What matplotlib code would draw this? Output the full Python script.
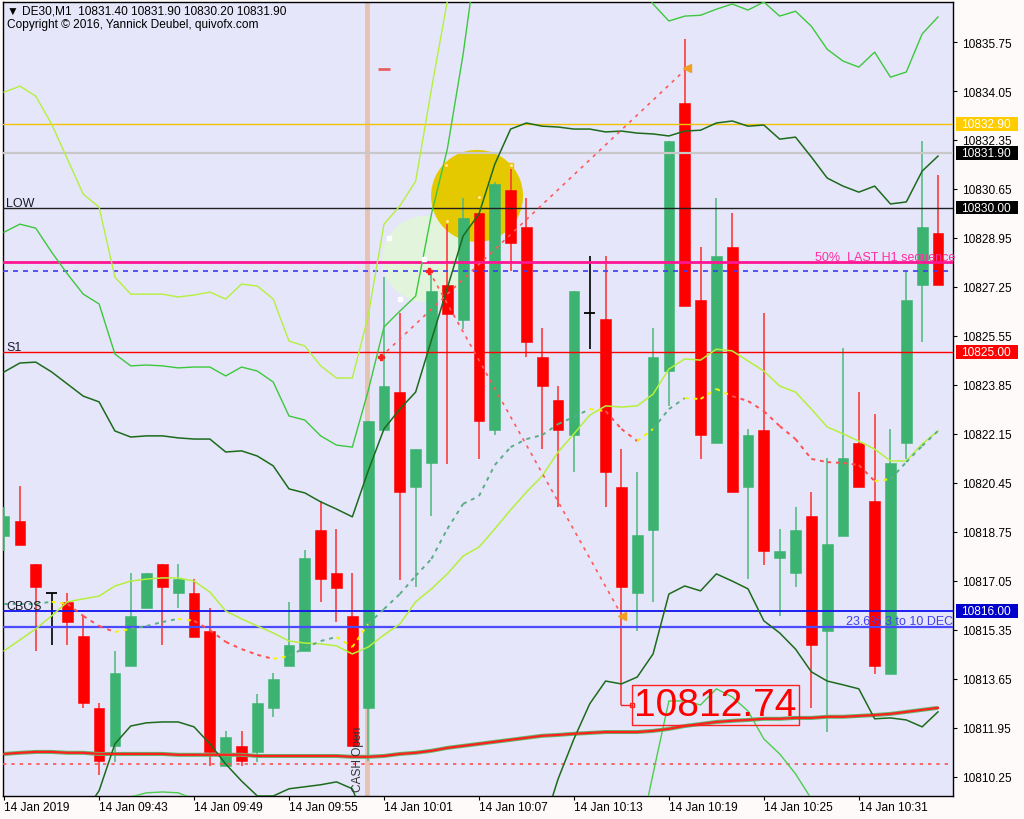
import numpy as np
import matplotlib
matplotlib.use('Agg')
import matplotlib.pyplot as plt
from matplotlib.patches import Ellipse, Rectangle
from matplotlib.collections import LineCollection
import matplotlib.transforms as mtransforms

plt.rcParams['font.family'] = ['Liberation Sans', 'DejaVu Sans']
nan = np.nan

# ---------------- data ----------------
opens = [10818.61, 10819.13, 10817.64, 10816.63, 10816.32, 10815.14, 10812.64, 10811.32, 10814.10, 10816.11,
         10817.64, 10816.63, 10816.63, 10815.31, 10810.63, 10811.32, 10811.11, 10812.64, 10814.10, 10814.62,
         10818.82, 10817.33, 10815.83, 10812.64, 10822.29, 10823.61, 10820.31, 10821.14, 10827.32, 10826.10,
         10829.82, 10822.29, 10830.61, 10829.33, 10824.82, 10823.33, 10822.11, 10826.35, 10826.14, 10820.31,
         10816.63, 10818.82, 10824.33, 10833.63, 10826.80, 10821.84, 10828.64, 10820.31, 10822.29, 10817.85,
         10817.33, 10819.30, 10815.31, 10818.61, 10821.84, 10819.82, 10813.82, 10821.84, 10827.32, 10829.12]
highs = [10819.62, 10820.34, 10817.64, 10816.63, 10816.63, 10815.83, 10812.82, 10814.62, 10817.33, 10817.33,
         10817.64, 10817.64, 10817.12, 10816.11, 10811.84, 10811.84, 10813.13, 10813.86, 10816.32, 10818.12,
         10819.82, 10818.85, 10817.33, 10822.60, 10827.60, 10826.35, 10821.63, 10827.70, 10829.61, 10830.34,
         10829.82, 10830.89, 10831.34, 10830.34, 10825.83, 10823.81, 10827.11, 10828.32, 10828.32, 10821.63,
         10820.83, 10825.83, 10832.31, 10835.85, 10828.64, 10830.34, 10829.82, 10822.32, 10826.35, 10818.85,
         10819.62, 10820.14, 10821.32, 10825.13, 10823.61, 10822.84, 10822.32, 10827.80, 10832.31, 10831.14]
lows = [10818.09, 10818.30, 10814.62, 10814.83, 10814.83, 10812.64, 10810.32, 10810.77, 10814.10, 10816.11,
        10814.83, 10816.11, 10815.10, 10810.63, 10810.63, 10810.63, 10810.77, 10812.33, 10814.10, 10814.62,
        10816.32, 10815.63, 10811.32, 10810.80, 10822.29, 10817.08, 10816.84, 10819.30, 10821.11, 10825.79,
        10821.28, 10822.11, 10827.80, 10824.82, 10821.63, 10819.62, 10820.83, 10825.10, 10819.62, 10812.74,
        10815.31, 10816.32, 10823.12, 10826.59, 10821.28, 10821.84, 10820.14, 10817.12, 10817.60, 10815.83,
        10816.84, 10812.64, 10811.81, 10818.61, 10820.31, 10813.82, 10813.82, 10821.28, 10825.34, 10827.32]
closes = [10819.30, 10818.30, 10816.84, 10816.63, 10815.63, 10812.82, 10810.80, 10813.86, 10815.83, 10817.33,
          10816.84, 10817.12, 10815.10, 10811.11, 10811.64, 10810.80, 10812.82, 10813.65, 10814.83, 10817.85,
          10817.12, 10816.81, 10811.32, 10822.60, 10823.81, 10820.14, 10821.63, 10827.11, 10826.31, 10829.64,
          10822.60, 10830.82, 10828.78, 10825.34, 10823.81, 10822.29, 10827.11, 10826.35, 10820.83, 10816.84,
          10818.64, 10824.82, 10832.31, 10826.59, 10822.11, 10828.32, 10820.14, 10822.11, 10818.09, 10818.09,
          10818.82, 10814.83, 10818.33, 10821.32, 10820.31, 10814.10, 10821.14, 10826.80, 10829.33, 10827.32]

band_light_upper = [10834.01, 10834.22, 10833.87, 10832.90, 10831.69, 10830.47, 10830.02, 10827.59, 10827.00, 10827.00,
                    10827.00, 10826.90, 10826.97, 10827.07, 10826.83, 10827.35, 10827.28, 10826.83, 10825.37, 10825.20,
                    10824.51, 10824.09, 10824.09, 10826.24, 10829.43, 10830.06, 10830.92, 10834.12, 10837.17, 10839.67] + [nan] * 30
band_mid_upper = [10829.15, 10829.43, 10829.29, 10828.46, 10827.70, 10827.00, 10826.66, 10824.92, 10824.51, 10824.54,
                  10824.51, 10824.44, 10824.47, 10824.47, 10824.16, 10824.47, 10824.33, 10823.95, 10822.77, 10822.63,
                  10822.08, 10821.76, 10821.69, 10823.64, 10825.86, 10826.41, 10826.93, 10829.78, 10832.03, 10835.33,
                  10839.32] + [nan] * 9 + [
                  10838.11, 10837.07, 10836.48, 10836.65, 10836.68, 10836.89, 10837.07, 10836.86, 10837.14, 10836.65,
                  10836.82, 10836.30, 10835.50, 10835.09, 10834.88, 10835.40, 10834.53, 10834.71, 10836.03, 10836.62]
band_dark_upper = [10824.30, 10824.61, 10824.64, 10824.30, 10823.88, 10823.46, 10823.26, 10822.25, 10822.04, 10822.08,
                   10822.08, 10822.01, 10821.97, 10821.97, 10821.52, 10821.56, 10821.38, 10821.04, 10820.24, 10820.10,
                   10819.79, 10819.54, 10819.27, 10820.86, 10822.32, 10823.01, 10823.60, 10825.41, 10827.21, 10829.02,
                   10829.78, 10831.51, 10832.73, 10832.94, 10832.83, 10832.80, 10832.73, 10832.73, 10832.63, 10832.66,
                   10832.59, 10832.56, 10832.49, 10832.66, 10832.69, 10832.94, 10833.01, 10832.83, 10832.87, 10832.38,
                   10832.45, 10831.76, 10831.03, 10830.75, 10830.54, 10830.75, 10830.13, 10830.20, 10831.27, 10831.79]
band_dark_lower = [nan] * 4 + [
                   10808.09, 10808.96, 10809.76, 10811.39, 10812.01, 10812.12, 10812.15, 10812.15, 10811.98, 10811.39,
                   10810.69, 10810.10, 10809.58, 10809.58, 10809.83, 10809.90, 10809.97, 10810.07, 10809.83, 10808.44] + [nan] * 10 + [
                   10808.44, 10810.17, 10811.56, 10812.78, 10813.57, 10813.47, 10813.71, 10814.51, 10816.59, 10816.87,
                   10816.70, 10817.29, 10817.04, 10816.77, 10815.66, 10815.24, 10814.68, 10813.89, 10813.57, 10813.44,
                   10813.30, 10812.26, 10812.29, 10812.22, 10811.98, 10812.50]
band_mid_lower = [nan] * 6 + [10808.44, 10809.31, 10809.55, 10809.69, 10809.72, 10809.69, 10809.48, 10808.96] + [nan] * 25 + [
                  10806.01, 10807.74, 10810.35, 10812.88, 10812.88, 10812.74, 10813.30, 10813.02, 10812.53, 10811.56,
                  10811.04, 10810.35, 10809.48, 10808.44] + [nan] * 7
ma_light = [10814.62, 10815.00, 10815.38, 10815.83, 10816.32, 10816.42, 10816.52, 10816.87, 10817.04, 10817.11,
            10817.15, 10817.15, 10817.04, 10816.66, 10816.00, 10815.73, 10815.48, 10815.24, 10814.96, 10814.89,
            10814.86, 10814.79, 10814.51, 10814.75, 10815.17, 10815.55, 10816.32, 10816.77, 10817.29, 10817.91,
            10818.22, 10818.85, 10819.51, 10820.13, 10820.69, 10821.52, 10822.15, 10822.80, 10823.12, 10823.08,
            10823.12, 10823.53, 10824.40, 10824.75, 10824.71, 10825.09, 10825.03, 10824.68, 10824.33, 10823.81,
            10823.60, 10823.01, 10822.39, 10822.15, 10821.90, 10821.62, 10821.21, 10821.21, 10821.80, 10822.25]
ma_dotted = [10816.25, 10816.25, 10816.25, 10816.32, 10816.25, 10815.83, 10815.48, 10815.27, 10815.38, 10815.48,
             10815.62, 10815.73, 10815.66, 10815.34, 10814.93, 10814.68, 10814.48, 10814.34, 10814.44, 10814.72,
             10814.96, 10815.10, 10814.75, 10815.55, 10816.07, 10816.59, 10817.22, 10817.81, 10818.85, 10819.72,
             10819.99, 10821.07, 10821.69, 10821.97, 10822.11, 10822.49, 10822.74, 10823.01, 10822.94, 10822.32,
             10821.90, 10822.32, 10823.01, 10823.39, 10823.36, 10823.71, 10823.46, 10823.29, 10822.94, 10822.42,
             10821.97, 10821.28, 10821.17, 10821.14, 10821.07, 10820.51, 10820.58, 10821.17, 10821.73, 10822.25]
ma_long = [10811.04, 10811.08, 10811.11, 10811.11, 10811.08, 10811.08, 10811.04, 10811.04, 10811.04, 10811.04,
           10811.04, 10811.01, 10811.01, 10811.01, 10811.01, 10811.01, 10810.97, 10810.97, 10810.97, 10810.97,
           10810.97, 10810.97, 10810.94, 10810.94, 10810.97, 10811.04, 10811.08, 10811.15, 10811.25, 10811.32,
           10811.39, 10811.46, 10811.53, 10811.60, 10811.67, 10811.70, 10811.74, 10811.77, 10811.80, 10811.80,
           10811.80, 10811.84, 10811.91, 10812.01, 10812.08, 10812.15, 10812.19, 10812.22, 10812.26, 10812.26,
           10812.29, 10812.29, 10812.33, 10812.33, 10812.36, 10812.39, 10812.43, 10812.50, 10812.57, 10812.64]

xtick_bars = [0, 6, 12, 18, 24, 30, 36, 42, 48, 54]
xtick_labels = ['14 Jan 2019', '14 Jan 09:43', '14 Jan 09:49', '14 Jan 09:55', '14 Jan 10:01',
                '14 Jan 10:07', '14 Jan 10:13', '14 Jan 10:19', '14 Jan 10:25', '14 Jan 10:31']
ytick_prices = [10835.75, 10834.05, 10832.35, 10830.65, 10828.95, 10827.25, 10825.55, 10823.85,
                10822.15, 10820.45, 10818.75, 10817.05, 10815.35, 10813.65, 10811.95, 10810.25]

level_gold = 10832.90
level_bid = 10831.90
level_low = 10830.00
level_half = 10828.12
level_blue_dot = 10827.80
level_s1 = 10825.00
level_cbos = 10816.00
level_fib = 10815.45
level_red_dot = 10810.70

cash_open_bar = 22.93
zig1 = ([23.8, 43.15], [10824.82, 10834.85])
zig2 = ([26.85, 39.04], [10827.80, 10815.83])
plus_x, plus_y = [23.8, 26.85], [10824.82, 10827.80]
tri_x, tri_y = [43.15, 39.04], [10834.85, 10815.83]
dash_x, dash_y = [24.0], [10834.81]
circle_gold = (29.88, 10830.41)
circle_pale = (26.6, 10828.22)
white_dots_x = [24.32, 25.02, 26.53]
white_dots_y = [10828.95, 10826.83, 10828.22]
yellow_dots_x = [27.92, 30.0, 32.03, 27.98]
yellow_dots_y = [10831.48, 10830.37, 10831.48, 10829.54]
low_label_bar = 39
low_label_value = 10812.74
low_label_x = 39.8

header = '\u25BC DE30,M1  10831.40 10831.90 10830.20 10831.90'
copyright_txt = 'Copyright \u00a9 2016, Yannick Deubel, quivofx.com'

# ---------------- figure ----------------
W, H = 1024, 820
fig = plt.figure(figsize=(W / 100, H / 100), dpi=100, facecolor='#fffafa')
ax = fig.add_axes([3 / W, 1 - 797 / H, 950 / W, 794 / H])
ax.set_facecolor('#e6e6fa')
ax.set_xlim(-0.07, 59.95)
ax.set_ylim(10809.58, 10837.14)
for s in ax.spines.values():
    s.set_color('black')
    s.set_linewidth(1.0)

x = np.arange(len(opens))
px_x = 950 / (59.95 + 0.07)          # pixels per bar
px_y = 794 / (10837.14 - 10809.58)   # pixels per price unit

# circles
ax.add_patch(Ellipse(circle_pale, 2 * 43 / px_x, 2 * 43 / px_y, fc='#e3f4dc', ec='none', zorder=1))
ax.add_patch(Ellipse(circle_gold, 2 * 46 / px_x, 2 * 46 / px_y, fc='#e5c900', ec='none', zorder=1.1))

# CASH open band
ax.axvline(cash_open_bar, color='#e6c2b2', lw=3.5, zorder=1.5)
blend_xd = mtransforms.blended_transform_factory(ax.transData, ax.transAxes)
ax.annotate('CASH Open', xy=(cash_open_bar, 0.006), xycoords=blend_xd, xytext=(-3, 0),
            textcoords='offset pixels', rotation=90, ha='right', va='bottom',
            fontsize=8.6, color='#333333', zorder=6)

# horizontal levels
ax.axhline(level_gold, color='#f0c400', lw=1.0, zorder=4)
ax.axhline(level_bid, color='#c8c8c8', lw=1.6, zorder=4)
ax.axhline(level_low, color='#202020', lw=1.0, zorder=4)
ax.axhline(level_half, color='#ff1493', lw=2.0, zorder=4)
ax.axhline(level_blue_dot, color='#3a3aff', lw=1.2, ls=(0, (3, 3)), zorder=4)
ax.axhline(level_s1, color='#ff0000', lw=1.0, zorder=4)
ax.axhline(level_cbos, color='#1010f0', lw=1.3, zorder=4)
ax.axhline(level_fib, color='#4a4aff', lw=1.6, zorder=4)
ax.axhline(level_red_dot, color='#ff5050', lw=1.2, ls=(0, (2, 3)), zorder=4)

# candles
for i in x:
    o, h, l, c = opens[i], highs[i], lows[i], closes[i]
    if c > o:
        col = '#3cb371'
    elif c < o:
        col = '#ff0000'
    else:
        col = '#000000'
    wick_col = {'#3cb371': '#55bb84', '#ff0000': '#ff3b3b', '#000000': '#000000'}[col]
    ax.vlines(i, l, h, color=wick_col, lw=1.2, zorder=3)
    if c != o:
        ax.add_patch(Rectangle((i - 0.34, min(o, c)), 0.68, abs(c - o), fc=col, ec=col, lw=0.4, zorder=3.1))
    else:
        ax.hlines(o, i - 0.34, i + 0.34, color=col, lw=1.3, zorder=3.1)

# indicator lines
ax.plot(x, ma_long, color='#5fb86a', lw=2.9, zorder=5, solid_capstyle='butt')
ax.plot(x, ma_long, color='#ff2020', lw=1.6, zorder=5.1)
ax.plot(x, band_light_upper, color='#b4f03c', lw=1.0, zorder=5)
ax.plot(x, band_mid_upper, color='#3cc83c', lw=1.0, zorder=5)
ax.plot(x, band_dark_upper, color='#1c6b1c', lw=1.1, zorder=5)
ax.plot(x, band_dark_lower, color='#1c6b1c', lw=1.1, zorder=5)
ax.plot(x, band_mid_lower, color='#4ccd4c', lw=1.0, zorder=5)
ax.plot(x, ma_light, color='#b4f03c', lw=1.1, zorder=5)

md = np.array(ma_dotted)
pts = np.column_stack([x, md])
segs = np.stack([pts[:-1], pts[1:]], axis=1)
d = np.diff(md)
cols = []
for k in range(len(d)):
    up = d[k] >= 0
    cols.append('#5aae86' if up else '#ff4f4f')
for k in range(1, len(d)):
    if (d[k] >= 0) != (d[k - 1] >= 0):
        cols[k] = '#f5f500'
lc = LineCollection(segs, colors=cols, linewidths=1.4, linestyles=[(0, (2, 2.5))], zorder=5.2)
ax.add_collection(lc)

# zigzag projections
ax.plot(*zig1, color='#ff5a5a', lw=1.2, ls=(0, (2, 3)), zorder=5.3)
ax.plot(*zig2, color='#ff5a5a', lw=1.2, ls=(0, (2, 3)), zorder=5.3)
ax.plot(plus_x, plus_y, ls='none', marker='P', ms=5, color='#ff2020', zorder=5.4)
ax.plot(tri_x, tri_y, ls='none', marker='<', ms=6, color='#f0a020', zorder=5.4)
ax.plot(dash_x, dash_y, ls='none', marker='_', ms=8, mew=2, color='#e86060', zorder=5.4)
ax.plot(white_dots_x, white_dots_y, ls='none', marker='s', ms=3, color='#ffffff', zorder=5.4)
ax.plot(yellow_dots_x, yellow_dots_y, ls='none', marker='s', ms=3.5, mfc='#fff6a0', mec='#f0c000', zorder=5.4)

# labels on the chart
blend_ad = mtransforms.blended_transform_factory(ax.transAxes, ax.transData)
for txt, lvl in [('LOW', level_low), ('S1', level_s1), ('CBOS', level_cbos)]:
    ax.annotate(txt, xy=(0.0, lvl), xycoords=blend_ad, xytext=(3, 2), textcoords='offset pixels',
                fontsize=9, color='#1a1a2a', va='baseline', zorder=7)
ann = ax.annotate('50%  LAST H1 sequence', xy=(51.2, level_half), xytext=(0, 2), textcoords='offset pixels',
                  fontsize=9, color='#ff2ea0', va='baseline', ha='left', zorder=7)
ann.set_clip_on(True)
ax.annotate('23.6% 3 to 10 DEC', xy=(53.2, level_fib), xytext=(0, 3), textcoords='offset pixels',
            fontsize=9, color='#4040f0', va='baseline', ha='left', zorder=7)

# low price label
ax.plot([low_label_bar, low_label_x - 0.15], [low_label_value, low_label_value], color='#ff2020', lw=1, zorder=6)
ax.plot([low_label_x - 0.15], [low_label_value], ls='none', marker='s', ms=3, mfc='none', mec='#ff2020', zorder=6)
ax.text(low_label_x, low_label_value, f'{low_label_value:.2f}', fontsize=28, color='#ff0000', ha='left', va='center',
        bbox=dict(boxstyle='square,pad=0.06', fc='none', ec='#ff2020', lw=1), zorder=8)

# axes ticks
ax.yaxis.tick_right()
ax.set_yticks(ytick_prices)
ax.set_yticklabels([f'{v:.2f}' for v in ytick_prices])
ax.tick_params(axis='y', direction='out', length=3, width=0.8, pad=3.5, labelsize=8.6, colors='black')
ax.set_xticks(xtick_bars)
ax.set_xticklabels(xtick_labels, ha='left')
ax.tick_params(axis='x', direction='out', length=3, width=0.8, pad=0.5, labelsize=8.6, colors='black')

# highlighted price labels on the right axis
box_h = 13.5 / px_y
for val, bg, fg in [(level_gold, '#ffcc00', '#ffffff'), (level_bid, '#000000', '#ffffff'),
                    (level_low, '#000000', '#ffffff'), (level_s1, '#ff0000', '#ffffff'),
                    (level_cbos, '#0000cc', '#ffffff')]:
    ax.add_patch(Rectangle((1 + 3 / 950, val - box_h / 2), 62 / 950, box_h, transform=blend_ad,
                           fc=bg, ec='none', clip_on=False, zorder=9))
    ax.text(1 + 8 / 950, val, f'{val:.2f}', transform=blend_ad, fontsize=8.6, color=fg,
            ha='left', va='center', clip_on=False, zorder=10)

# header
fig.text(7 / W, 1 - 12 / H, header, fontsize=8.6, color='black', va='center', ha='left')
fig.text(7 / W, 1 - 25 / H, copyright_txt, fontsize=8.6, color='black', va='center', ha='left')

fig.savefig('out.png', dpi=100, facecolor=fig.get_facecolor())
